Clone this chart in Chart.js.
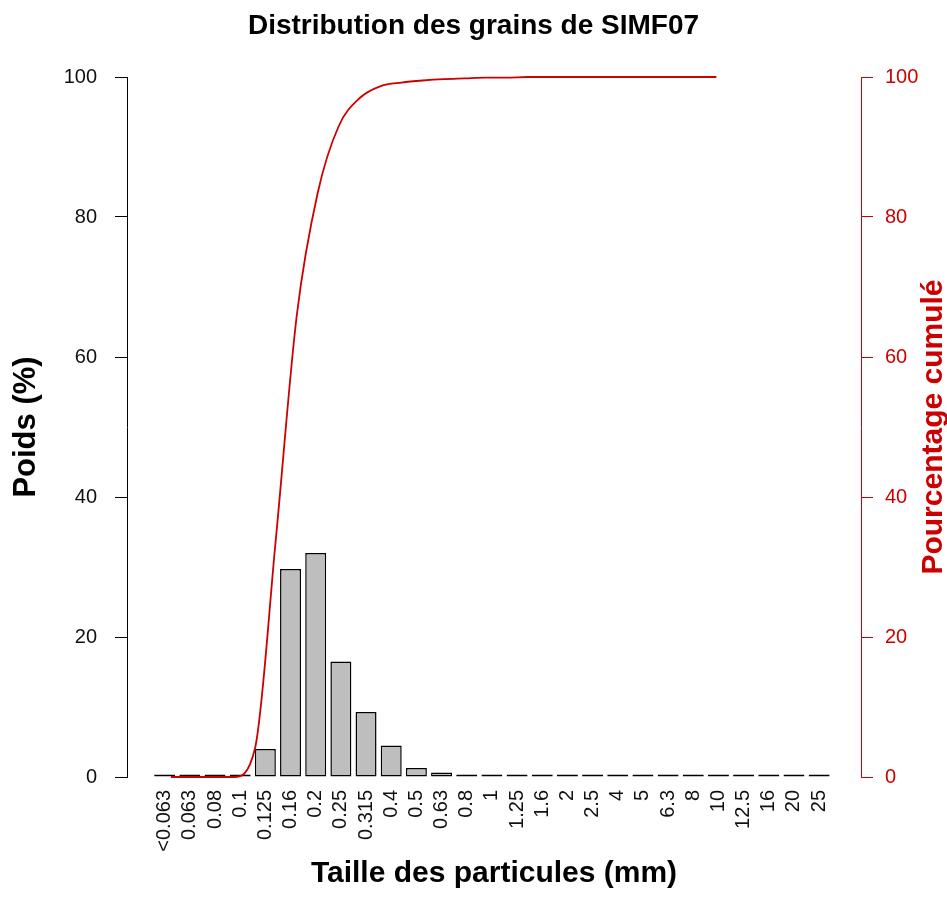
<!DOCTYPE html>
<html>
<head>
<meta charset="utf-8">
<script src="https://cdn.jsdelivr.net/npm/chart.js@4/dist/chart.umd.min.js"></script>
<style>
html,body{margin:0;padding:0;background:#fff;}
#wrap{width:947px;height:897px;}
</style>
</head>
<body>
<div id="wrap"><canvas id="c" width="947" height="897"></canvas></div>
<script>
// ---- data ----
const sizes = ['<0.063','0.063','0.08','0.1','0.125','0.16','0.2','0.25','0.315','0.4','0.5','0.63','0.8','1','1.25','1.6','2','2.5','4','5','6.3','8','10','12.5','16','20','25'];
const weights = [0,0,0,0,4.0,29.7,32.0,16.5,9.3,4.5,1.3,0.65,0,0,0,0,0,0,0,0,0,0,0,0,0,0,0];
const cumulative = [0,0,0,0,4.0,34,66,83.5,93,97,98.7,99.2,99.5,99.7,99.8,99.9,99.9,100,100,100,100,100,100,100,100,100,100];
const yTicks = [0,20,40,60,80,100];
const titleText = 'Distribution des grains de SIMF07';
const xTitle = 'Taille des particules (mm)';
const yTitle = 'Poids (%)';
const y2Title = 'Pourcentage cumulé';

// barplot midpoints (bar width 1, space 0.2), curve drawn at x = 1..n
const barMid = i => 0.7 + 1.2 * i;
const FAMILY = '"Liberation Sans", Arial, Helvetica, sans-serif';
const RED = '#CD0000';

const barData = weights.map((v, i) => ({x: barMid(i), y: v}));
const lineData = cumulative.map((v, i) => ({x: i + 1, y: v}));

const bg = {
  id: 'bg',
  beforeDraw(chart) {
    const ctx = chart.ctx;
    ctx.save();
    ctx.fillStyle = '#fff';
    ctx.fillRect(0, 0, chart.width, chart.height);
    ctx.restore();
  }
};

const rightTitle = {
  id: 'rightTitle',
  afterDraw(chart) {
    const ctx = chart.ctx;
    const a = chart.chartArea;
    const s = chart.scales.y2;
    ctx.save();
    ctx.translate(s.right - 13, (a.top + a.bottom) / 2);
    ctx.rotate(-Math.PI / 2);
    ctx.font = 'bold 30px ' + FAMILY;
    ctx.fillStyle = RED;
    ctx.textAlign = 'center';
    ctx.textBaseline = 'middle';
    ctx.fillText(y2Title, 0, 0);
    ctx.restore();
  }
};

new Chart(document.getElementById('c'), {
  data: {
    datasets: [
      {
        type: 'line',
        label: y2Title,
        data: lineData,
        yAxisID: 'y2',
        borderColor: RED,
        borderWidth: 1.8,
        pointRadius: 0,
        fill: false,
        cubicInterpolationMode: 'monotone',
        clip: false,
        order: 0
      },
      {
        type: 'bar',
        label: yTitle,
        data: barData,
        yAxisID: 'y',
        backgroundColor: '#BEBEBE',
        borderColor: '#000',
        borderWidth: 1.5,
        borderSkipped: false,
        minBarLength: 2.5,
        barPercentage: 1 / 1.2,
        categoryPercentage: 1,
        clip: false,
        order: 1
      }
    ]
  },
  options: {
    responsive: false,
    animation: false,
    layout: {padding: 0},
    plugins: {
      legend: {display: false},
      tooltip: {enabled: false},
      title: {
        display: true,
        text: titleText,
        color: '#000',
        font: {family: FAMILY, size: 28, weight: 'bold', lineHeight: 1.2},
        padding: {top: 9, bottom: 34.4}
      }
    },
    scales: {
      x: {
        type: 'linear',
        min: -1.096,
        max: 33.896,
        offset: false,
        grid: {display: false, drawTicks: false, offset: false},
        border: {display: false},
        afterBuildTicks: s => { s.ticks = sizes.map((_, i) => ({value: barMid(i)})); },
        afterFit: s => { s.height = 120; },
        ticks: {
          autoSkip: false,
          minRotation: 90,
          maxRotation: 90,
          padding: 13,
          color: '#111',
          font: {family: FAMILY, size: 20},
          callback: (v, idx) => sizes[idx]
        },
        title: {
          display: true,
          text: xTitle,
          color: '#000',
          font: {family: FAMILY, size: 30, weight: 'bold', lineHeight: 1.2},
          padding: {top: 0, bottom: 5}
        }
      },
      y: {
        type: 'linear',
        position: 'left',
        min: 0,
        max: 100,
        afterBuildTicks: s => { s.ticks = yTicks.map(v => ({value: v})); },
        afterFit: s => { s.width = 127; },
        grid: {drawOnChartArea: false, drawTicks: true, tickLength: 12, color: '#000', lineWidth: 1},
        border: {display: true, color: '#000', width: 1},
        ticks: {padding: 18, color: '#111', font: {family: FAMILY, size: 20}},
        title: {
          display: true,
          text: yTitle,
          color: '#000',
          font: {family: FAMILY, size: 31, weight: 'bold', lineHeight: 1.2},
          padding: {top: 8, bottom: 0}
        }
      },
      y2: {
        type: 'linear',
        position: 'right',
        min: 0,
        max: 100,
        afterBuildTicks: s => { s.ticks = yTicks.map(v => ({value: v})); },
        afterFit: s => { s.width = 86; },
        grid: {drawOnChartArea: false, drawTicks: true, tickLength: 12, color: RED, lineWidth: 1},
        border: {display: true, color: RED, width: 1},
        ticks: {padding: 12, color: RED, font: {family: FAMILY, size: 20}},
        title: {display: false, text: y2Title}
      }
    }
  },
  plugins: [bg, rightTitle]
});
</script>
</body>
</html>
